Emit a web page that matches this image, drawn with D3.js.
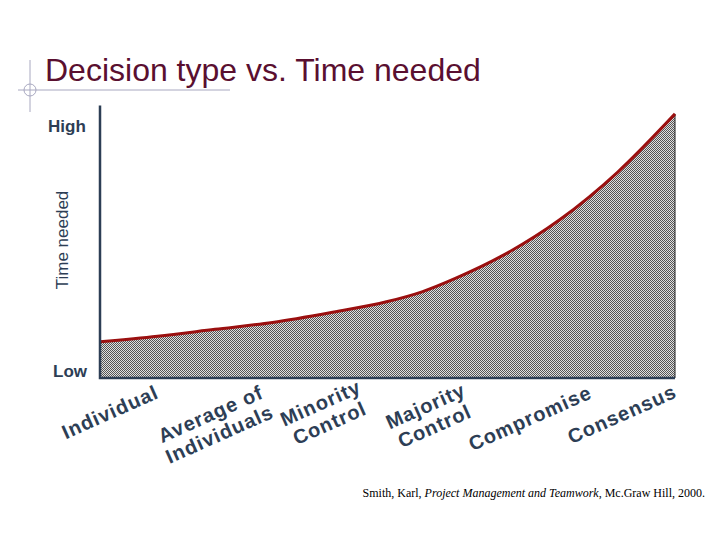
<!DOCTYPE html>
<html><head><meta charset="utf-8">
<script src="https://cdn.jsdelivr.net/npm/d3@7"></script>
<style>body{margin:0;background:#fff}</style></head>
<body><svg id="c" width="720" height="540"></svg>
<script>
const curveX = [0, 10, 20, 30, 40, 50, 56, 62, 70, 80, 90, 100];
const curveY = [13, 15, 17.5, 20, 23.5, 27.5, 31, 36, 44, 57, 74, 95];
const categories = [["Individual"],["Average of","Individuals"],["Minority","Control"],["Majority","Control"],["Compromise"],["Consensus"]];
const catPos = [3, 22, 41, 60, 79, 96];
const yTicks = ["Low","High"];

const svg = d3.select("#c");
const x = d3.scaleLinear().domain([0,100]).range([100,675]);
const y = d3.scaleLinear().domain([0,100]).range([378,100]);

// decoration
svg.append("line").attr("x1",18).attr("x2",230).attr("y1",90).attr("y2",90).attr("stroke","#a8a8c0");
svg.append("line").attr("x1",30).attr("x2",30).attr("y1",60).attr("y2",112).attr("stroke","#a8a8c0");
svg.append("circle").attr("cx",30).attr("cy",90).attr("r",6).attr("fill","none").attr("stroke","#a8a8c0");
svg.append("text").attr("x",45).attr("y",81).attr("font-family","Liberation Sans, Arial").attr("font-size",32).attr("fill","#5a0f30").text("Decision type vs. Time needed");

const defs = svg.append("defs");
const p = defs.append("pattern").attr("id","chk").attr("width",2).attr("height",2).attr("patternUnits","userSpaceOnUse");
p.append("rect").attr("width",2).attr("height",2).attr("fill","#e0e0e0");
p.append("rect").attr("width",1).attr("height",1).attr("fill","#555");
p.append("rect").attr("x",1).attr("y",1).attr("width",1).attr("height",1).attr("fill","#555");

const pts = curveX.map((d,i)=>[d,curveY[i]]);
svg.append("path").datum(pts).attr("fill","url(#chk)")
  .attr("d", d3.area().x(d=>x(d[0])).y0(y(0)).y1(d=>y(d[1])).curve(d3.curveMonotoneX));
svg.append("line").attr("x1",x(100)).attr("x2",x(100)).attr("y1",y(curveY[curveY.length-1])).attr("y2",y(0)).attr("stroke","#222");
svg.append("path").datum(pts).attr("fill","none").attr("stroke","#9b1010").attr("stroke-width",3)
  .attr("d", d3.line().x(d=>x(d[0])).y(d=>y(d[1])).curve(d3.curveMonotoneX));

// axes
svg.append("path").attr("d",`M${x(0)},${y(98)}V${y(0)}H${x(100)}`).attr("fill","none").attr("stroke","#2d3e55").attr("stroke-width",2.5);

const f = "Liberation Sans, Arial";
svg.append("text").attr("x",48).attr("y",132).attr("font-family",f).attr("font-weight","bold").attr("font-size",17).attr("fill","#2d3e55").text(yTicks[1]);
svg.append("text").attr("x",53).attr("y",377).attr("font-family",f).attr("font-weight","bold").attr("font-size",17).attr("fill","#2d3e55").text(yTicks[0]);
svg.append("text").attr("transform","translate(68,240) rotate(-90)").attr("text-anchor","middle").attr("font-family",f).attr("font-size",17).attr("fill","#2d3e55").text("Time needed");

const offs=[[110,412],[215,424],[325,413],[430,416],[530,418],[622,414]];
categories.forEach((lines,i)=>{
  const cx = x(catPos[i]);
  const g = svg.append("g").attr("transform",`translate(${offs[i][0]},${offs[i][1]}) rotate(-24)`);
  lines.forEach((t,j)=>{
    g.append("text").attr("x",0).attr("y",(j-(lines.length-1)/2)*22+7).attr("text-anchor","middle")
     .attr("font-family",f).attr("font-weight","bold").attr("font-size",20).attr("letter-spacing",1).attr("fill","#2d3e55").text(t);
  });
});

const cite = svg.append("text").attr("x",705).attr("y",497).attr("text-anchor","end").attr("font-family","Liberation Serif, Times New Roman").attr("font-size",12).attr("fill","#000");
cite.append("tspan").text("Smith, Karl, ");
cite.append("tspan").attr("font-style","italic").text("Project Management and Teamwork");
cite.append("tspan").text(", Mc.Graw Hill, 2000.");
</script></body></html>
